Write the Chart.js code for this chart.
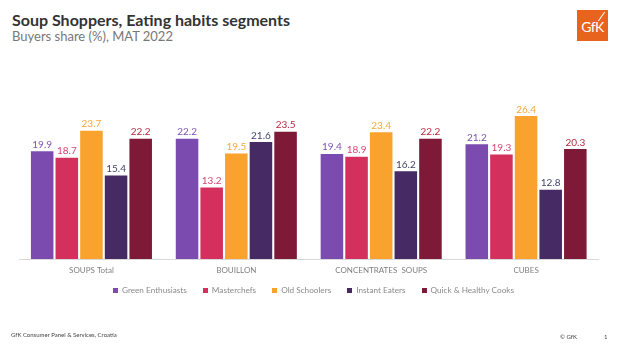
<!DOCTYPE html>
<html>
<head>
<meta charset="utf-8">
<title>Soup Shoppers, Eating habits segments</title>
<script src="https://cdn.jsdelivr.net/npm/chart.js@4"></script>
<style>

    body {
        margin: 0;
        background: #ffffff;
        font-family: "Lato", "Open Sans", sans-serif;
    }

    .page {
        position: relative;
        width: 620px;
        height: 346px;
        overflow: hidden;
    }

    .page-title {
        position: absolute;
        left: 12px;
        top: 12px;
        font-size: 16px;
        line-height: 16px;
        font-weight: bold;
        color: #333333;
        white-space: nowrap;
    }

    .page-subtitle {
        position: absolute;
        left: 12px;
        top: 30px;
        font-size: 13px;
        line-height: 13px;
        color: #777777;
        white-space: nowrap;
    }

    .logo {
        position: absolute;
        left: 577px;
        top: 10px;
        width: 31px;
        height: 31px;
        background: #e8641e;
        color: #ffffff;
        font-size: 14px;
        line-height: 33px;
        text-align: center;
        letter-spacing: -0.5px;
        overflow: hidden;
    }

    .logo-stroke {
        position: absolute;
        left: 24px;
        top: 1px;
        width: 1.2px;
        height: 11px;
        background: #ffffff;
        transform: rotate(35deg);
    }

    .chart-box {
        position: absolute;
        left: 0;
        top: 0;
        width: 620px;
        height: 346px;
    }

    .legend {
        position: absolute;
        left: 113px;
        top: 285px;
        display: flex;
        align-items: center;
        font-size: 8.2px;
        line-height: 10px;
        color: #8a8a8a;
        white-space: nowrap;
    }

    .legend-item {
        display: flex;
        align-items: center;
        margin-right: 16px;
    }

    .legend-box {
        width: 5px;
        height: 5px;
        margin-right: 4px;
    }

    .footer-left {
        position: absolute;
        left: 11px;
        top: 331px;
        font-size: 6px;
        line-height: 8px;
        color: #444444;
    }

    .footer-right {
        position: absolute;
        left: 560px;
        top: 333px;
        font-size: 6px;
        line-height: 8px;
        color: #444444;
    }

    .page-number {
        position: absolute;
        left: 604px;
        top: 333px;
        font-size: 6px;
        line-height: 8px;
        color: #444444;
    }

</style>
</head>
<body>

<div class="page">

    <div class="page-title">Soup Shoppers, Eating habits segments</div>
    <div class="page-subtitle">Buyers share (%), MAT 2022</div>

    <div class="logo">GfK<div class="logo-stroke"></div></div>

    <div class="chart-box">
        <canvas id="segmentChart" width="620" height="346"></canvas>
    </div>

    <div class="legend" id="segmentLegend"></div>

    <div class="footer-left">GfK Consumer Panel &amp; Services, Croatia</div>
    <div class="footer-right">© GfK</div>
    <div class="page-number">1</div>

</div>

<script>

// ==========================================
// DATA
// ==========================================

const categories = ["SOUPS Total", "BOUILLON", "CONCENTRATES  SOUPS", "CUBES"];

const segmentNames = [
    "Green Enthusiasts",
    "Masterchefs",
    "Old Schoolers",
    "Instant Eaters",
    "Quick & Healthy Cooks"
];

const greenEnthusiasts = [19.9, 22.2, 19.4, 21.2];
const masterchefs = [18.7, 13.2, 18.9, 19.3];
const oldSchoolers = [23.7, 19.5, 23.4, 26.4];
const instantEaters = [15.4, 21.6, 16.2, 12.8];
const quickHealthyCooks = [22.2, 23.5, 22.2, 20.3];

const segmentValues = [greenEnthusiasts, masterchefs, oldSchoolers, instantEaters, quickHealthyCooks];

const barColors = ["#7b4bb0", "#d3305e", "#f9a22d", "#462a64", "#7e1a37"];
const labelColors = ["#7e52b6", "#d9436f", "#f7a73a", "#43456a", "#b8283f"];

// ==========================================
// VALUE LABELS ABOVE BARS
// ==========================================

const valueLabels = {

    id: "valueLabels",

    afterDatasetsDraw: function (chart) {

        const ctx = chart.ctx;

        ctx.save();
        ctx.font = "10px Lato, sans-serif";
        ctx.textAlign = "center";
        ctx.textBaseline = "alphabetic";

        chart.data.datasets.forEach(function (dataset, i) {

            const meta = chart.getDatasetMeta(i);

            ctx.fillStyle = labelColors[i];

            meta.data.forEach(function (bar, j) {
                ctx.fillText(dataset.data[j].toFixed(1), bar.x, bar.y - 3.5);
            });

        });

        ctx.restore();
    }
};

// ==========================================
// CHART
// ==========================================

const chart = new Chart(document.getElementById("segmentChart"), {

    type: "bar",

    data: {
        labels: categories,
        datasets: segmentNames.map(function (name, i) {
            return {
                label: name,
                data: segmentValues[i],
                backgroundColor: barColors[i],
                barPercentage: 0.915,
                categoryPercentage: 0.85
            };
        })
    },

    options: {

        responsive: false,
        animation: false,

        layout: {
            padding: { left: 19, right: 21.5, top: 96.5, bottom: 63.4 }
        },

        plugins: {
            legend: { display: false },
            tooltip: { enabled: false }
        },

        scales: {

            x: {
                grid: { display: false, drawTicks: false },
                border: { display: true, color: "#d9d9d9", width: 1 },
                ticks: {
                    padding: 7,
                    color: "#7f7f7f",
                    font: { family: "Lato", size: 8 }
                }
            },

            y: {
                display: false,
                min: 0,
                max: 30
            }
        }
    },

    plugins: [valueLabels]
});

// ==========================================
// LEGEND
// ==========================================

const legendBox = document.getElementById("segmentLegend");

chart.data.datasets.forEach(function (dataset) {

    const item = document.createElement("div");
    item.className = "legend-item";

    const box = document.createElement("span");
    box.className = "legend-box";
    box.style.background = dataset.backgroundColor;

    const text = document.createElement("span");
    text.textContent = dataset.label;

    item.appendChild(box);
    item.appendChild(text);
    legendBox.appendChild(item);

});

</script>

</body>
</html>
